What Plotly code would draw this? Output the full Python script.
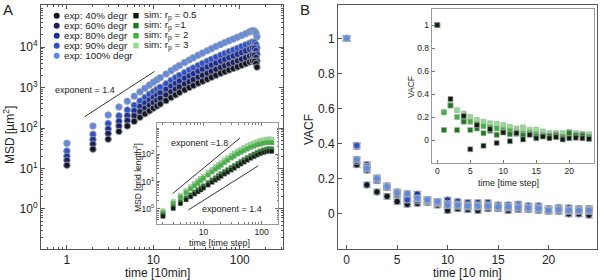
import plotly.graph_objects as go

W, H = 600, 280
FONT = "Liberation Sans, Arial, sans-serif"

# ---------------- data ----------------
exp_labels = ["exp: 40% degr", "exp: 60% degr", "exp: 80% degr", "exp: 90% degr", "exp: 100% degr"]
exp_colors = ["#15161e", "#1b1f5c", "#1e2c96", "#2e52cc", "#6089e0"]
sim_labels = ["sim: r<sub>p</sub> = 0.5", "sim: r<sub>p</sub> =1", "sim: r<sub>p</sub> = 2", "sim: r<sub>p</sub> = 3"]
sim_colors = ["#0c1f0c", "#1d7a1d", "#3db53d", "#8ee08a"]

t_exp_msd = [1, 2, 3, 4, 5, 6, 7, 8, 9, 10, 11, 12, 14, 16, 18, 20, 23, 26, 29, 33, 37, 42, 47, 53,
             60, 67, 75, 84, 94, 105, 117, 130, 140, 148, 154, 158]
msd_40 = [12, 30, 53, 82, 112, 146, 184, 224, 265, 308, 350, 392, 475, 567, 659, 750, 876, 1000, 1120,
          1285, 1430, 1610, 1790, 2010, 2240, 2460, 2700, 2960, 3240, 3550, 3890, 4270, 4540, 4450, 3920, 3200]
msd_60 = [16, 40, 73, 112, 153, 200, 253, 307, 364, 424, 482, 541, 656, 785, 912, 1040, 1220, 1390, 1560,
          1790, 2000, 2250, 2510, 2810, 3130, 3460, 3790, 4160, 4550, 5000, 5480, 6020, 6400, 6280, 5520, 4520]
msd_80 = [20, 52, 95, 147, 203, 267, 338, 413, 492, 575, 657, 738, 900, 1080, 1260, 1440, 1690, 1940, 2200,
          2520, 2830, 3210, 3580, 4030, 4510, 4980, 5490, 6040, 6650, 7330, 8080, 8900, 9490, 9300, 8180, 6700]
msd_90 = [27, 70, 130, 200, 280, 365, 465, 570, 680, 790, 905, 1020, 1240, 1500, 1750, 2000, 2350, 2700, 3060,
          3500, 3950, 4480, 5000, 5630, 6300, 6980, 7700, 8470, 9330, 10300, 11350, 12500, 13400, 13100, 11600, 9500]
msd_100 = [42, 112, 210, 330, 460, 610, 780, 960, 1150, 1350, 1550, 1750, 2150, 2600, 3050, 3500, 4150, 4800,
           5450, 6300, 7100, 8100, 9100, 10300, 11600, 12900, 14300, 15800, 17500, 19400, 21500, 23800, 25500,
           25000, 22000, 18000]

t_sim_msd = [2, 3, 4, 5, 6, 7, 8, 9, 10, 12, 14, 16, 18, 20, 23, 26, 30, 34, 39, 44, 50, 57, 65, 74, 84,
             95, 108, 122, 135, 150]
sim_msd_r05 = [0.54, 1.05, 1.58, 2.19, 2.82, 3.55, 4.27, 5.01, 5.89, 7.59, 9.55, 11.5, 13.5, 15.8, 19.1, 22.4,
               26.9, 31.6, 38.0, 44.7, 52.5, 61.7, 72.4, 83.2, 95.5, 107, 117, 126, 132, 129]
sim_msd_r1 = [0.62, 1.2, 1.86, 2.57, 3.31, 4.17, 5.01, 6.03, 7.08, 9.12, 11.5, 13.8, 16.6, 19.5, 23.4, 27.5,
              33.1, 38.9, 46.8, 55.0, 64.6, 75.9, 89.1, 102, 117, 132, 145, 155, 162, 158]
sim_msd_r2 = [0.72, 1.58, 2.69, 3.98, 5.5, 7.08, 8.91, 11.0, 13.2, 17.8, 22.9, 28.2, 33.9, 39.8, 50.1, 60.3,
              74.1, 87.1, 105, 120, 138, 158, 182, 200, 224, 240, 257, 269, 275, 269]
sim_msd_r3 = [0.85, 1.86, 3.16, 4.68, 6.46, 8.51, 10.7, 13.2, 15.8, 21.4, 27.5, 34.7, 41.7, 49.0, 61.7, 74.1,
              91.2, 110, 132, 151, 178, 204, 234, 263, 288, 316, 339, 355, 363, 355]

t_vacf = list(range(0, 25))
vacf_40 = [1, 0.28, 0.165, 0.125, 0.10, 0.07, 0.055, 0.06, 0.065, 0.05, 0.02, 0.03, 0.025, 0.02, 0.03, 0.03,
           0.02, 0.025, 0.025, 0.02, 0.015, 0.015, 0.0, 0.0, -0.007]
vacf_60 = [1, 0.30, 0.25, 0.19, 0.15, 0.11, 0.09, 0.075, 0.07, 0.06, 0.05, 0.045, 0.04, 0.04, 0.04, 0.035,
           0.035, 0.035, 0.03, 0.025, 0.02, 0.02, 0.015, 0.015, 0.015]
vacf_80 = [1, 0.385, 0.28, 0.205, 0.16, 0.125, 0.10, 0.112, 0.075, 0.07, 0.079, 0.07, 0.064, 0.064, 0.064,
           0.05, 0.05, 0.055, 0.045, 0.045, 0.03, 0.036, 0.034, 0.03, 0.03]
vacf_90 = [1, 0.39, 0.27, 0.20, 0.15, 0.12, 0.08, 0.085, 0.08, 0.065, 0.06, 0.055, 0.05, 0.05, 0.05, 0.04,
           0.04, 0.045, 0.035, 0.035, 0.025, 0.03, 0.025, 0.025, 0.025]
vacf_100 = [1, 0.31, 0.26, 0.20, 0.155, 0.12, 0.115, 0.09, 0.08, 0.07, 0.05, 0.05, 0.045, 0.045, 0.045, 0.04,
            0.04, 0.035, 0.035, 0.03, 0.02, 0.025, 0.02, 0.02, 0.02]
vacf_err = 0.015

t_vacf_sim = list(range(0, 24))
vsim_r05 = [1, None, 0.357, None, 0.21, -0.08, 0.13, -0.05, 0.095, -0.025, 0.065, -0.01, 0.06, 0.005, 0.045,
            0.015, 0.03, 0.015, 0.025, 0.005, 0.015, 0.02, 0.015, 0.01]
vsim_r1 = [1, 0.087, 0.30, 0.087, 0.16, 0.087, 0.10, 0.06, 0.08, 0.045, 0.07, 0.05, 0.055, 0.04, 0.05, 0.03,
           0.035, 0.035, 0.04, 0.02, 0.06, 0.04, 0.04, 0.02]
vsim_r2 = [1, 0.24, 0.30, 0.20, 0.17, 0.16, 0.14, 0.12, 0.11, 0.10, 0.09, 0.08, 0.07, 0.06, 0.065, 0.05,
           0.045, 0.04, 0.05, 0.03, 0.07, 0.045, 0.05, 0.03]
vsim_r3 = [1, 0.247, 0.31, 0.26, 0.23, 0.2, 0.175, 0.16, 0.145, 0.14, 0.13, 0.115, 0.1, 0.11, 0.09, 0.09,
           0.075, 0.06, 0.06, 0.06, 0.045, 0.06, 0.055, 0.05]

# guide lines (exponent slopes)
guide_main_t = [1.6, 10.3]
guide_main_msd = [190, 2500]
guide18_t = [2.94, 42.6]
guide18_msd = [3.67, 400]
guide14_t = [5.46, 88]
guide14_msd = [0.92, 38.3]

# ---------------- helpers ----------------
def px(x):
    return x / W

def py(y):
    return 1 - y / H

fig = go.Figure()

# ---- panel A main: experiment MSD ----
exp_msd = [msd_40, msd_60, msd_80, msd_90, msd_100]
for i in [4, 3, 2, 1, 0]:
    fig.add_trace(go.Scatter(
        x=t_exp_msd, y=exp_msd[i], mode="markers", xaxis="x", yaxis="y", showlegend=False,
        marker=dict(symbol="circle", size=6.5, color=exp_colors[i],
                    line=dict(color="rgba(150,158,172,0.95)", width=1))))
fig.add_trace(go.Scatter(x=guide_main_t, y=guide_main_msd, mode="lines", xaxis="x", yaxis="y",
                         showlegend=False, line=dict(color="#333", width=1)))

# ---- panel A inset: simulation MSD ----
sim_msd = [sim_msd_r05, sim_msd_r1, sim_msd_r2, sim_msd_r3]
for i in [3, 2, 1, 0]:
    fig.add_trace(go.Scatter(
        x=t_sim_msd, y=sim_msd[i], mode="markers", xaxis="x3", yaxis="y3", showlegend=False,
        marker=dict(symbol="square", size=4.5, color=sim_colors[i],
                    line=dict(color="rgba(160,160,160,0.8)", width=0.5))))
fig.add_trace(go.Scatter(x=guide18_t, y=guide18_msd, mode="lines", xaxis="x3", yaxis="y3",
                         showlegend=False, line=dict(color="#333", width=1)))
fig.add_trace(go.Scatter(x=guide14_t, y=guide14_msd, mode="lines", xaxis="x3", yaxis="y3",
                         showlegend=False, line=dict(color="#333", width=1)))

# ---- panel B main: experiment VACF ----
exp_vacf = [vacf_40, vacf_60, vacf_80, vacf_90, vacf_100]
for i in [0, 1, 2, 3, 4]:
    fig.add_trace(go.Scatter(
        x=t_vacf, y=exp_vacf[i], mode="markers", xaxis="x2", yaxis="y2", showlegend=False,
        error_y=dict(type="constant", value=vacf_err, color="#a9b1bf", thickness=1.5, width=4),
        marker=dict(symbol="circle", size=6.5, color=exp_colors[i],
                    line=dict(color="rgba(160,168,180,0.9)", width=1))))

# ---- panel B inset: simulation VACF ----
sim_vacf = [vsim_r05, vsim_r1, vsim_r2, vsim_r3]
for i in [3, 2, 1, 0]:
    fig.add_trace(go.Scatter(
        x=t_vacf_sim, y=sim_vacf[i], mode="markers", xaxis="x4", yaxis="y4", showlegend=False,
        marker=dict(symbol="square", size=5, color=sim_colors[i],
                    line=dict(color="rgba(170,170,170,0.9)", width=0.7))))

# ---------------- axes ----------------
def minor_log(lo, hi):
    return [k * 10 ** e for e in range(lo, hi) for k in range(2, 10)]

main_line = dict(showline=True, linecolor="#555", linewidth=1, showgrid=False, zeroline=False,
                 ticks="inside", tickcolor="#555", tickfont=dict(size=12, color="#222", family=FONT))
inset_line = dict(showline=True, linecolor="#999", linewidth=1, showgrid=False, zeroline=False,
                  ticks="inside", tickcolor="#777", tickfont=dict(size=8.5, color="#222", family=FONT))

fig.update_layout(
    width=W, height=H, margin=dict(l=0, r=0, t=0, b=0),
    paper_bgcolor="white", plot_bgcolor="white",
    font=dict(family=FONT, color="#222"),
    showlegend=False,
    xaxis=dict(domain=[px(41), px(283)], type="log", range=[-0.30, 2.50], anchor="y",
               tickvals=[1, 10, 100], ticktext=["1", "10", "100"], ticklen=4, mirror="allticks",
               minor=dict(ticks="inside", ticklen=2, tickcolor="#555", tickvals=minor_log(-1, 3)),
               **main_line),
    yaxis=dict(domain=[py(249), py(5)], type="log", range=[-0.99, 5.04], anchor="x",
               tickvals=[1, 10, 100, 1000, 10000],
               ticktext=["10<sup>0</sup>", "10<sup>1</sup>", "10<sup>2</sup>", "10<sup>3</sup>", "10<sup>4</sup>"],
               ticklen=4, mirror="allticks",
               minor=dict(ticks="inside", ticklen=2, tickcolor="#555", tickvals=minor_log(-1, 5)),
               **main_line),
    xaxis2=dict(domain=[px(338), px(597)], range=[-0.86, 24.8], anchor="y2",
                tickvals=[0, 5, 10, 15, 20], ticklen=4, mirror=True, **main_line),
    yaxis2=dict(domain=[py(249), py(5)], range=[-0.2, 1.19], anchor="x2",
                tickvals=[0, 0.2, 0.4, 0.6, 0.8, 1], ticktext=["0", "0.2", "0.4", "0.6", "0.8", "1"],
                ticklen=4, mirror=True, **main_line),
    xaxis3=dict(domain=[px(157), px(278)], type="log", range=[0.198, 2.284], anchor="y3",
                tickvals=[10, 100], ticktext=["10", "100"], ticklen=3, mirror="allticks",
                minor=dict(ticks="inside", ticklen=2, tickcolor="#777", tickvals=minor_log(0, 3)),
                **inset_line),
    yaxis3=dict(domain=[py(224), py(123)], type="log", range=[-0.55, 3.15], anchor="x3",
                tickvals=[1, 10, 100], ticktext=["10<sup>0</sup>", "10<sup>1</sup>", "10<sup>2</sup>"],
                ticklen=3, mirror="allticks",
                minor=dict(ticks="inside", ticklen=1.5, tickcolor="#777", tickvals=minor_log(-1, 4)),
                **inset_line),
    xaxis4=dict(domain=[px(431.7), px(594.3)], range=[-0.85, 23.8], anchor="y4",
                tickvals=[0, 5, 10, 15, 20], ticklen=3, mirror=True, **inset_line),
    yaxis4=dict(domain=[py(162.7), py(9.3)], range=[-0.197, 1.137], anchor="x4",
                tickvals=[0, 0.2, 0.4, 0.6, 0.8, 1], ticktext=["0", "0.2", "0.4", "0.6", "0.8", "1"],
                ticklen=3, mirror=True, **inset_line),
)

# ---------------- text ----------------
ann = []

def text(x, y, s, size, angle=0, xanchor="center", color="#222"):
    ann.append(dict(x=px(x), y=py(y), xref="paper", yref="paper", text=s, showarrow=False,
                    textangle=angle, xanchor=xanchor, yanchor="middle",
                    font=dict(size=size, family=FONT, color=color)))

text(8, 9, "A", 15)
text(305, 9, "B", 15)
text(9, 135, "MSD [µm<sup>2</sup>]", 12, angle=-90)
text(157, 273, "time [10min]", 12)
text(309, 130, "VACF", 12, angle=-90)
text(467, 273, "time [10 min]", 12)
text(219, 242.5, "time [time step]", 9)
text(137, 178, "MSD [grid length<sup>2</sup>]", 8.5, angle=-90)
text(508, 183, "time [time step]", 9)
text(411, 87, "VACF", 8.5, angle=-90)
text(85, 90, "exponent = 1.4", 9)
text(199, 143, "exponent =1.8", 9)
text(232, 209, "exponent = 1.4", 9)

# legend (manual, two columns)
shapes = []
for i, lab in enumerate(exp_labels):
    cy = 15.7 + 10 * i
    cx = 56.7
    shapes.append(dict(type="circle", xref="paper", yref="paper",
                       x0=px(cx - 3), x1=px(cx + 3), y0=py(cy + 3), y1=py(cy - 3),
                       fillcolor=exp_colors[i], line=dict(width=0)))
    text(62.3, cy, lab, 9.8, xanchor="left")
for i, lab in enumerate(sim_labels):
    cy = 15.7 + 10 * i
    cx = 136
    shapes.append(dict(type="rect", xref="paper", yref="paper",
                       x0=px(cx - 2.7), x1=px(cx + 2.7), y0=py(cy + 2.7), y1=py(cy - 2.7),
                       fillcolor=sim_colors[i], line=dict(width=0)))
    text(141.7, cy, lab, 9.8, xanchor="left")

fig.update_layout(annotations=ann, shapes=shapes)

fig.write_html("out.html", config={"displayModeBar": False},
               post_script="document.body.style.margin='0';document.body.style.padding='0';")
